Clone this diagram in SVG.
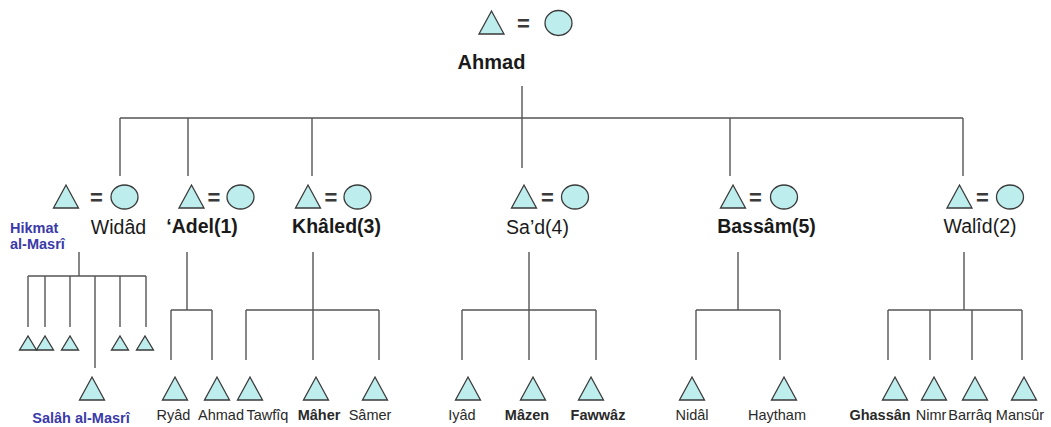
<svg xmlns="http://www.w3.org/2000/svg" width="1051" height="427" viewBox="0 0 1051 427">
<defs>
<style>
.bg{fill:#ffffff}
.tri,.cir{fill:#bdeded;stroke:#3a3a3a;stroke-width:1.3}
.ln{fill:none;stroke:#555555;stroke-width:1.4}
.eq{font-family:"Liberation Sans",Arial,sans-serif;font-size:22px;font-weight:bold;fill:#3a3a3a;text-anchor:middle}
.pn{font-family:"Liberation Sans",Arial,sans-serif;font-size:19.5px;fill:#1a1a1a;text-anchor:middle}
.b{font-weight:bold}
.cn{font-family:"Liberation Sans",Arial,sans-serif;font-size:14.5px;fill:#2a2a2a;text-anchor:middle}
.bl{font-family:"Liberation Sans",Arial,sans-serif;font-size:14.5px;font-weight:bold;fill:#3a3aa8}
</style>
<polygon id="T" points="-12.5,23 0,0 12.5,23"/>
<polygon id="t" points="-8.5,14 0,0 8.5,14"/>
</defs>
<rect class="bg" x="0" y="0" width="1051" height="427"/>

<g id="connectors">
<path class="ln" d="M522,86 V168 M120,118 H963 M120,118 V176 M188,118 V176 M312,118 V176 M730,118 V176 M963,118 V176"/>
<path class="ln" d="M79,252 V276 M28,276 H146 M28,276 V327 M45,276 V327 M70,276 V327 M95,276 V368 M120,276 V327 M146,276 V327"/>
<path class="ln" d="M187,252 V310 M171,310 H212 M171,310 V360 M212,310 V360"/>
<path class="ln" d="M313,252 V310 M246,310 H379 M246,310 V360 M313,310 V360 M379,310 V360"/>
<path class="ln" d="M529,252 V310 M462,310 H596 M462,310 V360 M529,310 V360 M596,310 V360"/>
<path class="ln" d="M738,252 V310 M696,310 H780 M696,310 V360 M780,310 V360"/>
<path class="ln" d="M964,252 V310 M888,310 H1022 M888,310 V360 M930,310 V360 M972,310 V360 M1022,310 V360"/>
</g>

<g id="ahmad">
<use href="#T" class="tri" x="491.5" y="11"/>
<text class="eq" x="523.5" y="31">=</text>
<ellipse class="cir" cx="558.5" cy="23" rx="13.5" ry="12.5"/>
<text class="pn b" x="491.5" y="69" style="font-size:20px">Ahmad</text>
</g>

<g id="widad">
<use href="#T" class="tri" x="66" y="185"/>
<text class="eq" x="96.5" y="205">=</text>
<ellipse class="cir" cx="124.5" cy="197" rx="13.5" ry="12"/>
<text class="pn" x="118.5" y="234">Widâd</text>
</g>

<g id="hikmat">
<text class="bl" x="10" y="233">Hikmat</text>
<text class="bl" x="10" y="249">al-Masrî</text>
<use href="#t" class="tri" x="28" y="336"/>
<use href="#t" class="tri" x="45" y="336"/>
<use href="#t" class="tri" x="70" y="336"/>
<use href="#t" class="tri" x="120" y="336"/>
<use href="#t" class="tri" x="145" y="336"/>
</g>

<g id="salah">
<use href="#T" class="tri" x="92" y="377"/>
<text class="bl" x="81" y="423" text-anchor="middle">Salâh al-Masrî</text>
</g>

<g id="adel">
<use href="#T" class="tri" x="191.5" y="185"/>
<text class="eq" x="214" y="205">=</text>
<ellipse class="cir" cx="240.5" cy="197" rx="13.5" ry="12"/>
<text class="pn b" x="202" y="233">‘Adel(1)</text>
</g>

<g id="khaled">
<use href="#T" class="tri" x="308" y="185"/>
<text class="eq" x="331" y="205">=</text>
<ellipse class="cir" cx="357.5" cy="197" rx="13.5" ry="12"/>
<text class="pn b" x="336.5" y="233">Khâled(3)</text>
</g>

<g id="sad">
<use href="#T" class="tri" x="524" y="185"/>
<text class="eq" x="547.5" y="205">=</text>
<ellipse class="cir" cx="575" cy="197" rx="13.5" ry="12"/>
<text class="pn" x="537.5" y="234">Sa’d(4)</text>
</g>

<g id="bassam">
<use href="#T" class="tri" x="733" y="185"/>
<text class="eq" x="755.5" y="205">=</text>
<ellipse class="cir" cx="784" cy="197" rx="13.5" ry="12"/>
<text class="pn b" x="766.5" y="233">Bassâm(5)</text>
</g>

<g id="walid">
<use href="#T" class="tri" x="959.5" y="185"/>
<text class="eq" x="982.5" y="205">=</text>
<ellipse class="cir" cx="1010" cy="197" rx="13.5" ry="12"/>
<text class="pn" x="980" y="233">Walîd(2)</text>
</g>

<g id="ryad"><use href="#T" class="tri" x="175" y="377"/><text class="cn" x="173.5" y="420">Ryâd</text></g>
<g id="ahmad2"><use href="#T" class="tri" x="217" y="377"/><text class="cn" x="221" y="420">Ahmad</text></g>
<g id="tawfiq"><use href="#T" class="tri" x="250" y="377"/><text class="cn" x="267.5" y="420">Tawfîq</text></g>
<g id="maher"><use href="#T" class="tri" x="316" y="377"/><text class="cn b" x="319" y="420">Mâher</text></g>
<g id="samer"><use href="#T" class="tri" x="375" y="377"/><text class="cn" x="370" y="420">Sâmer</text></g>
<g id="iyad"><use href="#T" class="tri" x="468" y="377"/><text class="cn" x="462" y="420">Iyâd</text></g>
<g id="mazen"><use href="#T" class="tri" x="533" y="377"/><text class="cn b" x="527" y="420">Mâzen</text></g>
<g id="fawwaz"><use href="#T" class="tri" x="591" y="377"/><text class="cn b" x="598" y="420">Fawwâz</text></g>
<g id="nidal"><use href="#T" class="tri" x="692" y="377"/><text class="cn" x="692" y="420">Nidâl</text></g>
<g id="haytham"><use href="#T" class="tri" x="784" y="377"/><text class="cn" x="777" y="420">Haytham</text></g>
<g id="ghassan"><use href="#T" class="tri" x="895" y="377"/><text class="cn b" x="880" y="420">Ghassân</text></g>
<g id="nimr"><use href="#T" class="tri" x="934" y="377"/><text class="cn" x="931" y="420">Nimr</text></g>
<g id="barraq"><use href="#T" class="tri" x="975" y="377"/><text class="cn" x="970" y="420">Barrâq</text></g>
<g id="mansur"><use href="#T" class="tri" x="1024" y="377"/><text class="cn" x="1020" y="420">Mansûr</text></g>
</svg>
